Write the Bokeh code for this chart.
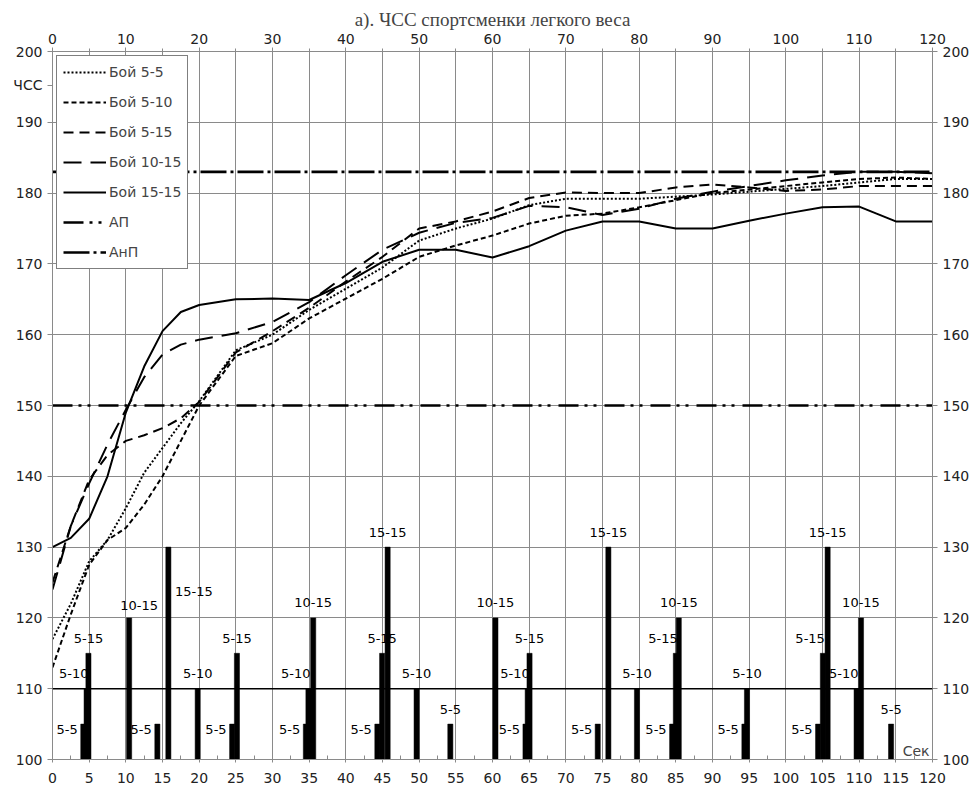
from bokeh.plotting import figure
from bokeh.models import (LinearAxis, Range1d, Legend, LegendItem, Label, Span,
                          FixedTicker, ColumnDataSource)
from bokeh.embed import file_html
from bokeh.resources import INLINE
from bokeh.core.properties import value

# ---------------- data ----------------
title_text = "а). ЧСС спортсменки легкого веса"
y_title = "ЧСС"
y_title_at = 195.2
x_title = "Сек"

t_sec = [0, 2.5, 5, 7.5, 10, 12.5, 15, 17.5, 20, 25, 30, 35, 40, 45, 50, 55,
         60, 65, 70, 75, 80, 85, 90, 95, 100, 105, 110, 115, 120]

hr_5_5 = [117, 122, 128, 131, 135.5, 140.5, 144, 147.5, 150.6, 157.8, 160, 163.5,
          166.5, 169.5, 173.3, 175, 176.4, 178.3, 179.2, 179.2, 179.2, 179.5,
          179.8, 180.2, 180.6, 181, 181.5, 182, 182]
hr_5_10 = [113, 120.5, 127.5, 131, 132.7, 136, 140, 145, 150, 157, 158.8, 162.3,
           165.1, 167.9, 171, 172.6, 174, 175.7, 176.8, 177.1, 178, 179, 180,
           180.5, 181, 181.5, 182, 182.2, 182]
hr_5_15 = [125, 133, 139.5, 143, 145, 145.8, 146.8, 148.2, 150.5, 157.5, 160.5,
           163.8, 167.5, 171, 175, 176, 177.4, 179.3, 180.1, 180, 180, 180.8,
           181.2, 180.8, 180.3, 180.5, 181, 181, 181]
hr_10_15 = [124, 133, 139, 144.5, 149.4, 154, 157.2, 158.6, 159.3, 160.2, 161.8,
            164.6, 168.4, 172, 174.4, 175.8, 176.5, 178.2, 178, 176.9, 177.8,
            179.2, 180.2, 181, 181.8, 182.5, 183, 183, 182.8]
hr_15_15 = [130, 131.3, 134, 140, 149, 155.5, 160.5, 163.2, 164.2, 165, 165.1,
            164.9, 167.3, 170.3, 172, 172, 170.9, 172.5, 174.7, 176, 176, 175,
            175, 176.1, 177.1, 178, 178.1, 176, 176]

series_names = ["Бой 5-5", "Бой 5-10", "Бой 5-15", "Бой 10-15", "Бой 15-15"]

ap_level = 150     # АП
anp_level = 183    # АнП
ref_line_110 = 110

bar_t = [4.2, 4.65, 4.9, 10.45, 14.3, 15.8, 19.8, 24.5, 25.15, 34.55, 34.9, 35.55,
         44.3, 44.95, 45.7, 49.65, 54.25, 60.4, 64.5, 64.8, 65.05, 74.35, 75.8,
         79.7, 84.5, 85.0, 85.4, 94.35, 94.7, 104.4, 105.05, 105.7, 109.65,
         110.25, 114.35]
bar_type = ["5-5", "5-10", "5-15", "10-15", "5-5", "15-15", "5-10", "5-5", "5-15",
            "5-5", "5-10", "10-15", "5-5", "5-15", "15-15", "5-10", "5-5", "10-15",
            "5-5", "5-10", "5-15", "5-5", "15-15", "5-10", "5-5", "5-15", "10-15",
            "5-5", "5-10", "5-5", "5-15", "15-15", "5-10", "10-15", "5-5"]
type_height = {"5-5": 105, "5-10": 110, "5-15": 115, "10-15": 120, "15-15": 130}

# label placement codes (layout only)
bar_label_pos = ["L", "AL", "A", "AR", "L", "R", "A", "L", "A", "L", "AL", "A",
                 "L", "A", "A", "A", "A", "A", "L", "AL", "A", "L", "A", "A",
                 "L", "AL", "A", "L", "A", "L", "AL", "A", "AL", "A", "A"]

x_min, x_max = 0, 120
y_min, y_max = 100, 200

# ---------------- figure ----------------
FONT = "DejaVu Sans"
GRID = "#8a8a8a"

p = figure(width=972, height=788, x_range=Range1d(x_min, x_max),
           y_range=Range1d(y_min, y_max), output_backend="svg",
           toolbar_location=None, min_border_left=52, min_border_right=36,
           min_border_top=51, min_border_bottom=29,
           title=title_text)
p.title.align = "center"
p.title.text_font = "Liberation Serif"
p.title.text_font_size = "19px"
p.title.text_font_style = "normal"
p.title.standoff = 2
p.background_fill_color = "white"
p.border_fill_color = "white"
p.outline_line_color = GRID

# grids
p.xgrid.ticker = FixedTicker(ticks=list(range(0, 121, 5)))
p.ygrid.ticker = FixedTicker(ticks=list(range(100, 201, 10)))
for g in (p.xgrid[0], p.ygrid[0]):
    g.grid_line_color = GRID
    g.grid_line_width = 1

# axes
bottom = p.xaxis[0]
bottom.ticker = FixedTicker(ticks=list(range(0, 121, 5)),
                            minor_ticks=[i + 2.5 for i in range(0, 120, 5)])
left = p.yaxis[0]
left.ticker = FixedTicker(ticks=list(range(100, 201, 10)) + [y_title_at])
left.major_label_overrides = {y_title_at: y_title}

top = LinearAxis(ticker=FixedTicker(ticks=list(range(0, 121, 10)),
                                    minor_ticks=list(range(5, 120, 10))))
right = LinearAxis(ticker=FixedTicker(ticks=list(range(100, 201, 10))))
p.add_layout(top, "above")
p.add_layout(right, "right")

for ax in (bottom, left, top, right):
    ax.axis_line_color = GRID
    ax.major_tick_line_color = GRID
    ax.minor_tick_line_color = GRID
    ax.major_label_text_font = FONT
    ax.major_label_text_font_size = "14px"
    ax.major_label_text_color = "#222222"

bottom.major_tick_in = 0
bottom.major_tick_out = 3
bottom.minor_tick_in = 4
bottom.minor_tick_out = 0
bottom.major_label_standoff = 10

top.major_tick_in = 4
top.major_tick_out = 4
top.minor_tick_in = 3
top.minor_tick_out = 3
top.major_label_standoff = 4

for ax in (left, right):
    ax.major_tick_in = 0
    ax.major_tick_out = 5
    ax.minor_tick_in = 0
    ax.minor_tick_out = 0
    ax.major_label_standoff = 5

# black reference line at 110
p.add_layout(Span(location=ref_line_110, dimension="width",
                  line_color="black", line_width=1.5))

# bars
bar_w = 0.7
bar_src = ColumnDataSource(dict(x=bar_t,
                                top=[type_height[b] for b in bar_type]))
p.vbar(x="x", top="top", bottom=y_min, width=bar_w, source=bar_src,
       fill_color="black", line_color="black", line_width=0.5)

# bar labels
label_styles = [
    # code, x shift (data), x_offset px, y_offset px, align
    ("L", -bar_w / 2, -3, 5, "right"),
    ("AL", 0, 2, -15, "right"),
    ("A", 0, 0, -15, "center"),
    ("AR", 0, 10, -12, "center"),
    ("R", bar_w / 2, 4, 44, "left"),
]
for code, dx, xo, yo, align in label_styles:
    idx = [i for i, c in enumerate(bar_label_pos) if c == code]
    src = ColumnDataSource(dict(
        x=[bar_t[i] + dx for i in idx],
        y=[type_height[bar_type[i]] for i in idx],
        text=[bar_type[i] for i in idx]))
    p.text(x="x", y="y", text="text", source=src, x_offset=xo, y_offset=yo,
           text_align=align, text_baseline="middle",
           text_font=value(FONT), text_font_size="13px", text_color="black")

# HR curves
series = [hr_5_5, hr_5_10, hr_5_15, hr_10_15, hr_15_15]
dashes = ["2 2", "5 3", "10 6", "18 9", "solid"]
items = []
for name, ys, d in zip(series_names, series, dashes):
    r = p.line(t_sec, ys, line_color="black", line_width=2, line_dash=d)
    items.append(LegendItem(label=name, renderers=[r]))

r_ap = p.line([x_min, x_max], [ap_level, ap_level], line_color="black",
              line_width=2.6, line_dash="20 6 3 6 3 8")
r_anp = p.line([x_min, x_max], [anp_level, anp_level], line_color="black",
               line_width=2.6, line_dash="26 4 3 4")
items.append(LegendItem(label="АП", renderers=[r_ap]))
items.append(LegendItem(label="АнП", renderers=[r_anp]))

legend = Legend(items=items, location="top_left", margin=4, padding=6,
                glyph_width=43, glyph_height=20, label_height=20, spacing=10,
                label_standoff=3, label_text_font=FONT,
                label_text_font_size="14px", border_line_color="black",
                border_line_width=1, background_fill_color="white",
                background_fill_alpha=1.0)
p.add_layout(legend)

p.add_layout(Label(x=x_max, y=101.2, x_offset=-3, text=x_title,
                   text_align="right", text_baseline="middle", text_font=FONT,
                   text_font_size="14px"))

open("out.html", "w").write(file_html(p, INLINE))
